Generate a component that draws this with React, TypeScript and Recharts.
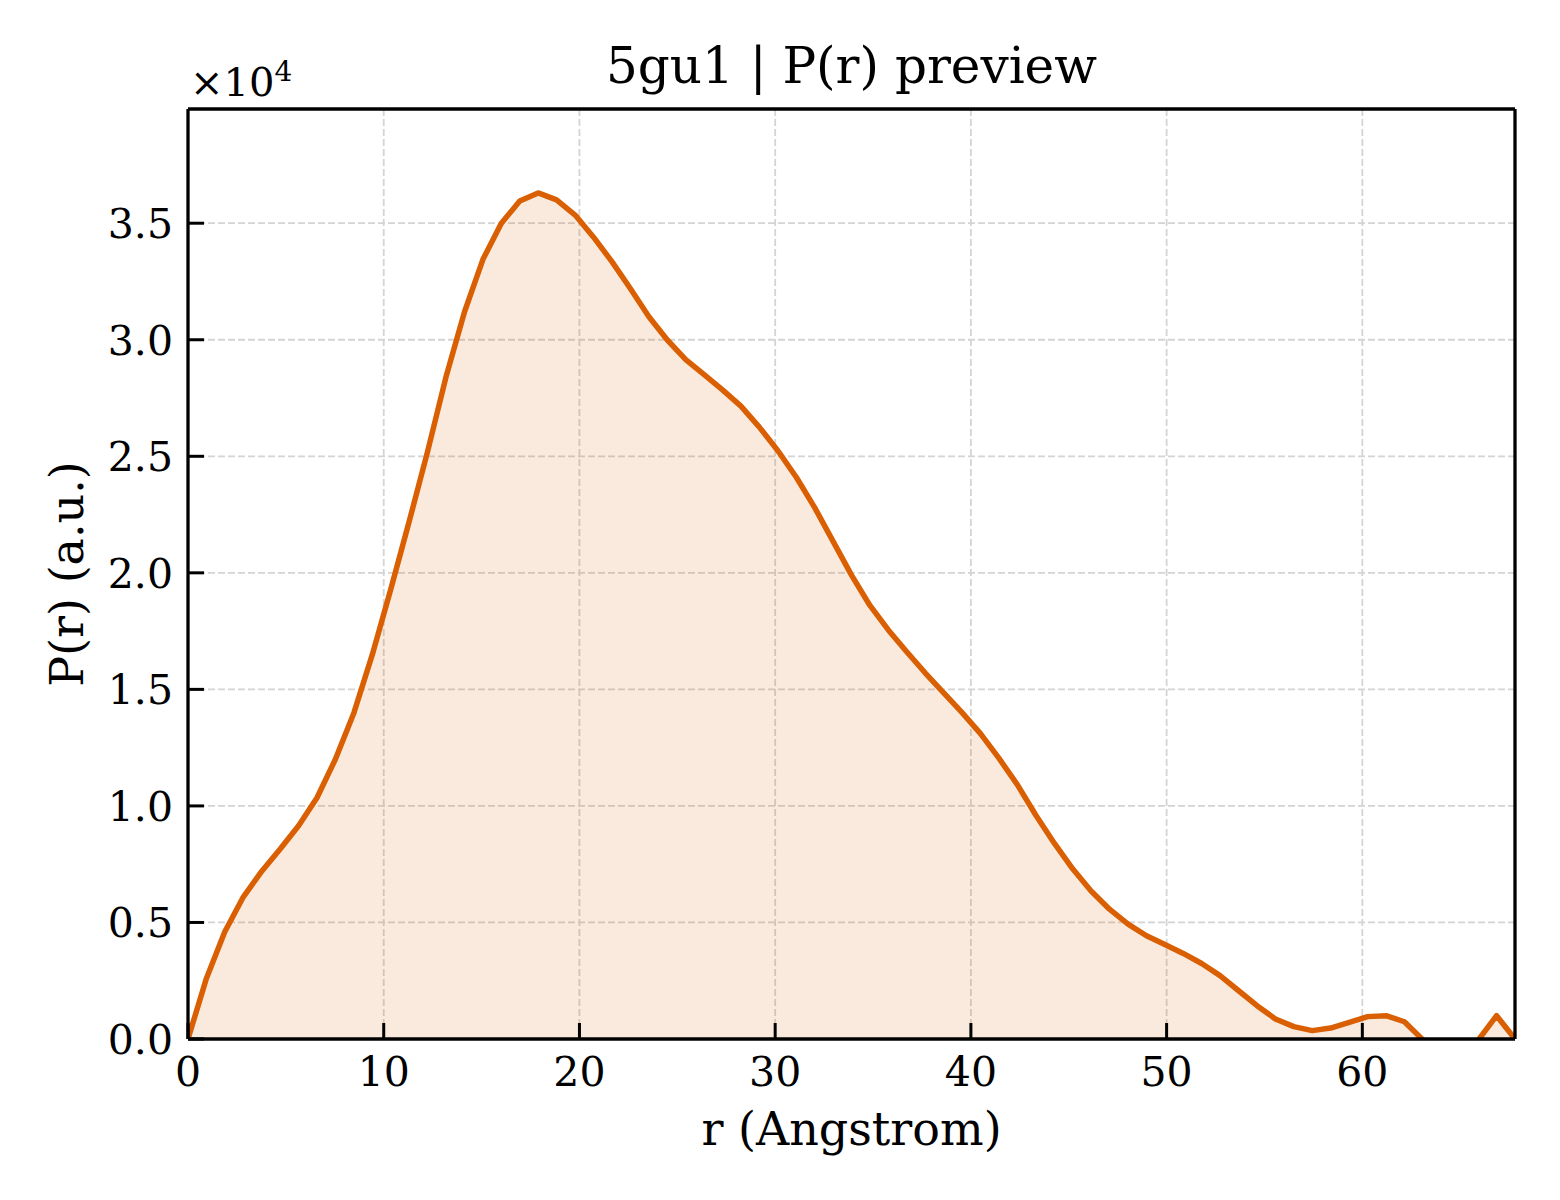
import React from 'react';
import { ComposedChart, Area, XAxis, YAxis, CartesianGrid } from 'recharts';

const rValues = [
  0, 0.94, 1.88, 2.83, 3.77, 4.71, 5.65, 6.59, 7.53, 8.48,
  9.42, 10.36, 11.3, 12.24, 13.18, 14.13, 15.07, 16.01, 16.95, 17.89,
  18.83, 19.78, 20.72, 21.66, 22.6, 23.54, 24.48, 25.43, 26.37, 27.31,
  28.25, 29.19, 30.13, 31.08, 32.02, 32.96, 33.9, 34.84, 35.78, 36.73,
  37.67, 38.61, 39.55, 40.49, 41.43, 42.38, 43.32, 44.26, 45.2, 46.14,
  47.08, 48.03, 48.97, 49.91, 50.85, 51.79, 52.73, 53.68, 54.62, 55.56,
  56.5, 57.44, 58.38, 59.33, 60.27, 61.21, 62.15, 63.09, 64.03, 64.98,
  65.92, 66.86, 67.8,
];

const prValues = [
  0, 2600, 4600, 6100, 7200, 8150, 9150, 10350, 12000, 14000,
  16500, 19300, 22200, 25200, 28400, 31200, 33450, 35000, 35950, 36300,
  36000, 35350, 34400, 33350, 32200, 31000, 30000, 29150, 28500, 27850,
  27150, 26250, 25250, 24100, 22800, 21350, 19900, 18600, 17550, 16600,
  15700, 14850, 14000, 13100, 12050, 10900, 9600, 8400, 7300, 6350,
  5570, 4930, 4430, 4050, 3670, 3240, 2720, 2070, 1430, 860,
  530, 360, 470, 710, 960, 1000, 740, -30, -400, -500,
  -50, 1000, 0,
];

const xTicks = [0, 10, 20, 30, 40, 50, 60];
const yTicks = [0, 5000, 10000, 15000, 20000, 25000, 30000, 35000];

const title = '5gu1 | P(r) preview';
const xLabel = 'r (Angstrom)';
const yLabel = 'P(r) (a.u.)';

const data = rValues.map((r, i) => ({ r, pr: prValues[i] }));

const FONT = '"DejaVu Serif", serif';
const LINE = '#d95f02';

const XTick = (props: any) => {
  const { x, y, payload } = props;
  return (
    <g>
      <line x1={x} x2={x} y1={y} y2={y - 16} stroke="#000" strokeWidth={3} />
      <text x={x} y={y + 47} textAnchor="middle" fontSize={41} fontFamily={FONT} fill="#000">
        {payload.value}
      </text>
    </g>
  );
};

const YTick = (props: any) => {
  const { x, y, payload } = props;
  return (
    <g>
      <line x1={x} x2={x + 16} y1={y} y2={y} stroke="#000" strokeWidth={3} />
      <text x={x - 15} y={y + 15} textAnchor="end" fontSize={41} fontFamily={FONT} fill="#000">
        {(payload.value / 10000).toFixed(1)}
      </text>
    </g>
  );
};

export default function App() {
  return (
    <div style={{ position: 'relative', width: 1560, height: 1200, background: '#fff' }}>
      <style>{'body{margin:0;}'}</style>
      <ComposedChart
        width={1560}
        height={1200}
        data={data}
        margin={{ top: 0, right: 0, bottom: 0, left: 0 }}
      >
        <CartesianGrid stroke="#d4d4d4" strokeDasharray="7 3" strokeWidth={1.8} />
        <XAxis
          dataKey="r"
          type="number"
          domain={[0, 67.8]}
          ticks={xTicks}
          interval={0}
          allowDataOverflow
          height={161}
          tickSize={0}
          tickMargin={0}
          tickLine={false}
          axisLine={{ stroke: '#000', strokeWidth: 3.3 }}
          tick={XTick}
        />
        <XAxis
          xAxisId="top"
          orientation="top"
          type="number"
          domain={[0, 67.8]}
          height={109}
          tick={false}
          tickLine={false}
          axisLine={{ stroke: '#000', strokeWidth: 3.3 }}
        />
        <YAxis
          type="number"
          domain={[0, 39900]}
          ticks={yTicks}
          interval={0}
          allowDataOverflow
          width={188}
          tickSize={0}
          tickMargin={0}
          tickLine={false}
          axisLine={{ stroke: '#000', strokeWidth: 3.3 }}
          tick={YTick}
        />
        <YAxis
          yAxisId="right"
          orientation="right"
          type="number"
          domain={[0, 39900]}
          width={45}
          tick={false}
          tickLine={false}
          axisLine={{ stroke: '#000', strokeWidth: 3.3 }}
        />
        <Area
          type="linear"
          dataKey="pr"
          baseValue={0}
          stroke={LINE}
          strokeWidth={5.5}
          strokeLinejoin="round"
          fill={LINE}
          fillOpacity={0.13}
          dot={false}
          activeDot={false}
          isAnimationActive={false}
        />
      </ComposedChart>
      <svg
        width={1560}
        height={1200}
        style={{ position: 'absolute', left: 0, top: 0, pointerEvents: 'none' }}
      >
        <text x={851.5} y={83} textAnchor="middle" fontSize={50} fontFamily={FONT} fill="#000">
          {title}
        </text>
        <text x={190} y={96} fontSize={40} fontFamily={FONT} fill="#000">
          ×10
          <tspan fontSize={28} dy={-15}>4</tspan>
        </text>
        <text x={851.5} y={1145} textAnchor="middle" fontSize={46} fontFamily={FONT} fill="#000">
          {xLabel}
        </text>
        <text
          transform="translate(83,574) rotate(-90)"
          textAnchor="middle"
          fontSize={46}
          fontFamily={FONT}
          fill="#000"
        >
          {yLabel}
        </text>
      </svg>
    </div>
  );
}
